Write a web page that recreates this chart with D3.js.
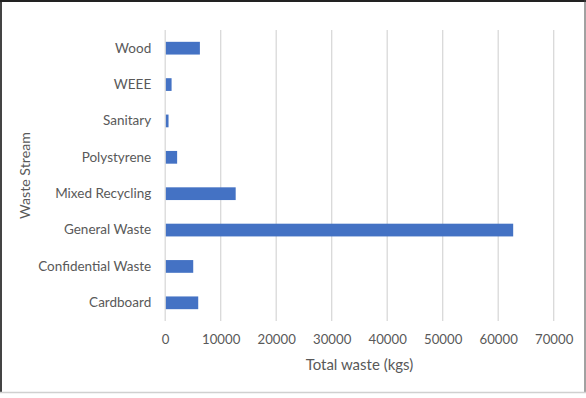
<!DOCTYPE html>
<html><head><meta charset="utf-8">
<script src="https://cdn.jsdelivr.net/npm/d3@7"></script>
<style>
html,body{margin:0;padding:0;background:#fff;}
svg{display:block;font-family:Lato,"Open Sans",sans-serif;}
</style></head>
<body><svg id="c" width="586" height="398"></svg>
<script>
const categories = ["Wood","WEEE","Sanitary","Polystyrene","Mixed Recycling","General Waste","Confidential Waste","Cardboard"];
const values = [6250,1150,600,2150,12700,62700,5050,5950];
const xTicks = [0,10000,20000,30000,40000,50000,60000,70000];
const xTitle = "Total waste (kgs)";
const yTitle = "Waste Stream";

const svg = d3.select("#c");
const W = 586, H = 398;
const m = {left:165.2, right:553.7, top:30, bottom:321};

// frame
svg.append("line").attr("x1",1).attr("x2",1).attr("y1",0).attr("y2",393).attr("stroke","#444").attr("stroke-width",2);
svg.append("line").attr("x1",0).attr("x2",W).attr("y1",1).attr("y2",1).attr("stroke","#222").attr("stroke-width",2);
svg.append("line").attr("x1",585).attr("x2",585).attr("y1",0).attr("y2",393).attr("stroke","#444").attr("stroke-width",1);
svg.append("line").attr("x1",0).attr("x2",W).attr("y1",392.5).attr("y2",392.5).attr("stroke","#d0d0d0").attr("stroke-width",1.5);

const x = d3.scaleLinear().domain([0,70000]).range([m.left,m.right]);
const y = d3.scaleBand().domain(categories).range([m.top,m.bottom]).paddingInner(0.65).paddingOuter(0.325);

// gridlines
svg.append("g").selectAll("line").data(xTicks.slice(1)).join("line")
  .attr("x1",d=>x(d)).attr("x2",d=>x(d)).attr("y1",m.top).attr("y2",m.bottom)
  .attr("stroke","#d9d9d9").attr("stroke-width",1.3);

// bars
svg.append("g").selectAll("rect").data(categories).join("rect")
  .attr("x",x(0)).attr("y",d=>y(d)).attr("height",y.bandwidth())
  .attr("width",(d,i)=>x(values[i])-x(0)).attr("fill","#4472C4");

// y axis line
svg.append("line").attr("x1",x(0)).attr("x2",x(0)).attr("y1",m.top).attr("y2",m.bottom).attr("stroke","#d9d9d9").attr("stroke-width",1.3);

// x axis
const xa = svg.append("g").attr("transform",`translate(0,${m.bottom})`)
  .call(d3.axisBottom(x).tickValues(xTicks).tickFormat(d3.format("d")).tickSize(0).tickPadding(14));
xa.select(".domain").remove();
xa.selectAll("text").attr("fill","#595959").attr("font-size","13.2px").attr("font-family","Lato,sans-serif");

// y axis labels
const ya = svg.append("g").attr("transform",`translate(${m.left},0)`)
  .call(d3.axisLeft(y).tickSize(0).tickPadding(14));
ya.select(".domain").remove();
ya.selectAll("text").attr("fill","#595959").attr("font-size","13.5px").attr("font-family","Lato,sans-serif");

// titles
svg.append("text").attr("x",(m.left+m.right)/2).attr("y",370).attr("text-anchor","middle")
  .attr("fill","#595959").attr("font-size","15px").text(xTitle);
svg.append("text").attr("transform",`translate(30,${(m.top+m.bottom)/2}) rotate(-90)`).attr("text-anchor","middle")
  .attr("fill","#595959").attr("font-size","14.2px").text(yTitle);
</script></body></html>
